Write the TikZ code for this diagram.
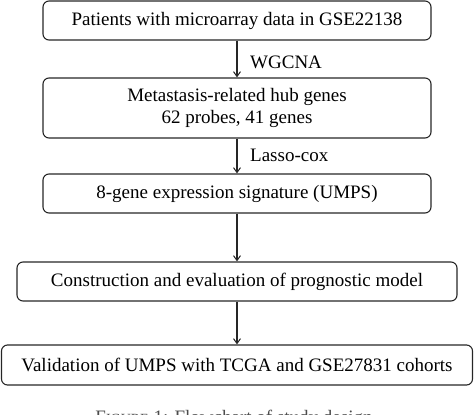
\documentclass[tikz,border=0pt]{standalone}
\usepackage{fontspec}
\setmainfont{Liberation Serif}
\usetikzlibrary{arrows.meta}
\begin{document}
\begin{tikzpicture}[x=1pt,y=-1pt,
  box/.style={draw=black!85, line width=1.1pt, rounded corners=6pt, inner sep=0pt, align=center, font=\fontsize{19}{22}\selectfont},
  conn/.style={draw=black!85, line width=1.1pt, -{Straight Barb[length=5pt,width=7pt,line width=1pt]}},
  lab/.style={anchor=west, inner sep=0pt, font=\fontsize{19}{20}\selectfont}]
\useasboundingbox (0,0) rectangle (474,415);
\begin{scope}
\clip (0,0) rectangle (474,415);
\node[box, minimum width=388pt, minimum height=39pt] (b1) at (237,20.5) {Patients with microarray data in GSE22138};
\node[box, minimum width=388pt, minimum height=60pt] (b2) at (237,108) {Metastasis-related hub genes\\62 probes, 41 genes};
\node[box, minimum width=388pt, minimum height=39pt] (b3) at (237,193.5) {8-gene expression signature (UMPS)};
\node[box, minimum width=440pt, minimum height=39pt] (b4) at (237,281.5) {Construction and evaluation of prognostic model};
\node[box, minimum width=471pt, minimum height=40pt] (b5) at (237,365) {Validation of UMPS with TCGA and GSE27831 cohorts};
\draw[conn] (b1) -- (b2);
\draw[conn] (b2) -- (b3);
\draw[conn] (b3) -- (b4);
\draw[conn] (b4) -- (b5);
\node[lab] (l1) at (250,62) {WGCNA};
\node[lab] (l2) at (250,155) {Lasso-cox};
\node[inner sep=0pt, anchor=north, font=\fontsize{19}{22}\selectfont, text=black!70] (cap) at (234,410) {F{\fontsize{14}{16}\selectfont IGURE} 1: Flowchart of study design};
\end{scope}
\end{tikzpicture}
\end{document}
